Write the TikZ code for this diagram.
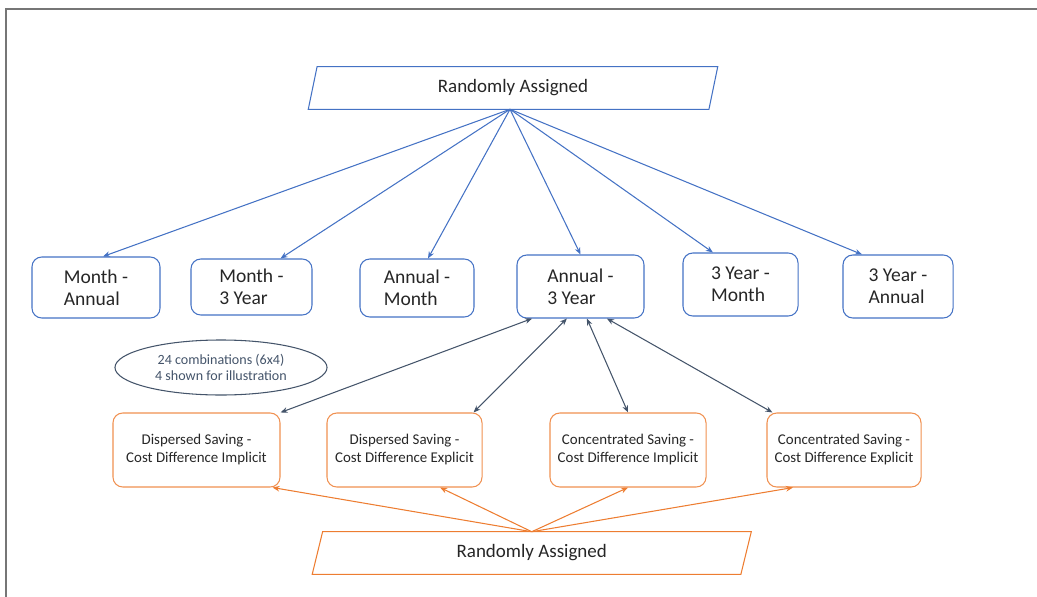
\documentclass[tikz,border=0pt]{standalone}
\usepackage{fontspec}
\setmainfont{Carlito}
\usetikzlibrary{arrows.meta,shapes.geometric}
\definecolor{bl}{HTML}{4472C4}
\definecolor{og}{HTML}{ED7D31}
\definecolor{sl}{HTML}{44546A}
\definecolor{txt}{HTML}{262626}
\definecolor{frm}{HTML}{767676}

\begin{document}
\begin{tikzpicture}[x=0.025cm,y=-0.025cm,
	bbox/.style={draw=bl,line width=0.75pt,rounded corners=7pt,align=left,inner sep=0pt,text=txt,font=\fontsize{13.9}{15.6}\selectfont},
	obox/.style={draw=og!85,line width=0.75pt,rounded corners=7pt,align=center,inner sep=0pt,minimum height=1.85cm,text=txt,font=\fontsize{10.6}{12.8}\selectfont},
	ptext/.style={inner sep=0pt,minimum height=1.05cm,text=txt,font=\fontsize{13.5}{16}\selectfont},
	barrow/.style={bl,line width=0.75pt,-{Stealth[length=5pt,width=4pt]}},
	darrow/.style={sl,line width=0.75pt,{Stealth[length=5pt,width=4pt]}-{Stealth[length=5pt,width=4pt]}},
	oarrow/.style={og,line width=0.75pt,-{Stealth[length=5pt,width=4pt]}}]

	\useasboundingbox (0,0) rectangle (1037,597);
	\draw[frm,line width=1.2pt] (6,597) -- (6,9) -- (1037,9);

	\node[ptext,minimum width=10cm] (top) at (513,88) {Randomly Assigned};
	\draw[bl,line width=0.75pt] ([xshift=-0.11cm]top.south west) -- ([xshift=0.11cm]top.north west)
		-- ([xshift=0.11cm]top.north east) -- ([xshift=-0.11cm]top.south east) -- cycle;

	\node[bbox,minimum width=3.2cm,minimum height=1.525cm] (ma) at (96,287.5) {Month -\\Annual};
	\node[bbox,minimum width=3.025cm,minimum height=1.4cm] (m3) at (251.5,287) {Month -\\3 Year};
	\node[bbox,minimum width=2.85cm,minimum height=1.45cm] (am) at (417,288) {Annual -\\Month};
	\node[bbox,minimum width=3.175cm,minimum height=1.575cm] (a3) at (580.5,286.5) {Annual -\\3 Year};
	\node[bbox,minimum width=2.875cm,minimum height=1.575cm] (ym) at (740.5,284.5) {3 Year -\\Month};
	\node[bbox,minimum width=2.75cm,minimum height=1.575cm] (ya) at (898,286.5) {3 Year -\\Annual};

	\draw[barrow] ([xshift=-0.075cm]top.south) -- ([xshift=0.175cm]ma.north);
	\draw[barrow] ([xshift=-0.075cm]top.south) -- ([xshift=0.725cm]m3.north);
	\draw[barrow] ([xshift=-0.075cm]top.south) -- ([xshift=0.275cm]am.north);
	\draw[barrow] ([xshift=-0.075cm]top.south) -- (a3.north);
	\draw[barrow] ([xshift=-0.075cm]top.south) -- ([xshift=-0.69cm]ym.north);
	\draw[barrow] ([xshift=-0.075cm]top.south) -- ([xshift=-0.9cm]ya.north);

	\node[ellipse,draw=sl,line width=0.75pt,minimum width=5.3cm,minimum height=1.375cm,inner sep=0pt,align=center,text=sl,font=\fontsize{10}{11}\selectfont] (note) at (221,367.5) {24 combinations (6x4)\\4 shown for illustration};

	\node[obox,minimum width=4.175cm] (d1) at (196.5,450) {Dispersed Saving -\\Cost Difference Implicit};
	\node[obox,minimum width=3.875cm] (d2) at (404.5,450) {Dispersed Saving -\\Cost Difference Explicit};
	\node[obox,minimum width=3.9cm] (c1) at (628,450) {Concentrated Saving -\\Cost Difference Implicit};
	\node[obox,minimum width=3.85cm] (c2) at (844,450) {Concentrated Saving -\\Cost Difference Explicit};

	\draw[darrow] ([xshift=-1.21cm]a3.south) -- (d1.north east);
	\draw[darrow] ([xshift=-0.34cm]a3.south) -- ([xshift=-0.225cm]d2.north east);
	\draw[darrow] ([xshift=0.16cm]a3.south) -- (c1.north);
	\draw[darrow] ([xshift=0.66cm]a3.south) -- ([xshift=0.15cm]c2.north west);

	\node[ptext,minimum width=10.7cm] (bot) at (531.75,553) {Randomly Assigned};
	\draw[og,line width=0.75pt] ([xshift=-0.13cm]bot.south west) -- ([xshift=0.13cm]bot.north west)
		-- ([xshift=0.13cm]bot.north east) -- ([xshift=-0.13cm]bot.south east) -- cycle;

	\draw[oarrow] (bot.north) -- ([xshift=-0.2cm]d1.south east);
	\draw[oarrow] (bot.north) -- ([xshift=0.89cm]d2.south);
	\draw[oarrow] (bot.north) -- (c1.south);
	\draw[oarrow] (bot.north) -- ([xshift=-1.275cm]c2.south);
\end{tikzpicture}
\end{document}
